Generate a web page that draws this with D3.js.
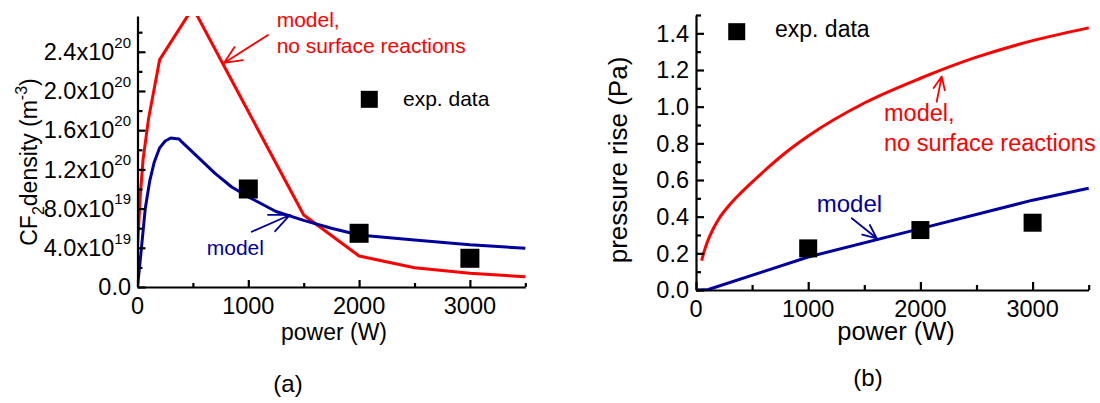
<!DOCTYPE html>
<html><head><meta charset="utf-8">
<script src="https://cdn.jsdelivr.net/npm/d3@7"></script>
<style>
body{margin:0;background:#fff}
svg{display:block}
text{font-family:"Liberation Sans",Arial,Helvetica,sans-serif;fill:#000}
</style></head>
<body><svg id="chart" width="1100" height="403"></svg>
<script>
// ---------- data ----------
const powerMajor = [0, 1000, 2000, 3000];
const powerMinor = [500, 1500, 2500, 3500];

// panel (a): CF2 density
const densMajor = [0, 0.4e20, 0.8e20, 1.2e20, 1.6e20, 2.0e20, 2.4e20];
const densMajorMant = ["0.0", "4.0x10", "8.0x10", "1.2x10", "1.6x10", "2.0x10", "2.4x10"];
const densMajorExp = ["", "19", "19", "20", "20", "20", "20"];
const densMinor = [0.2e20, 0.6e20, 1.0e20, 1.4e20, 1.8e20, 2.2e20, 2.6e20];

const aRedPower = [0, 25, 50, 100, 200, 500, 1000, 1500, 2000, 2500, 3000, 3500];
const aRedDensity = [0.40e20, 0.93e20, 1.30e20, 1.72e20, 2.32e20, 2.85e20, 1.79e20, 0.735e20, 0.316e20, 0.197e20, 0.14e20, 0.105e20];

const aBluePower = [0, 20, 40, 70, 110, 150, 200, 250, 300, 375, 400, 550, 700, 850, 1000, 1250, 1500, 1750, 2000, 2500, 3000, 3500];
const aBlueDensity = [0, 0.22e20, 0.45e20, 0.80e20, 1.08e20, 1.27e20, 1.42e20, 1.49e20, 1.52e20, 1.51e20, 1.48e20, 1.32e20, 1.16e20, 1.02e20, 0.92e20, 0.77e20, 0.68e20, 0.60e20, 0.53e20, 0.48e20, 0.43e20, 0.395e20];

const aExpPower = [1000, 2000, 3000];
const aExpDensity = [1.0e20, 0.548e20, 0.293e20];

// panel (b): pressure rise
const presMajor = [0, 0.2, 0.4, 0.6, 0.8, 1.0, 1.2, 1.4];
const presMajorLabels = ["0.0", "0.2", "0.4", "0.6", "0.8", "1.0", "1.2", "1.4"];
const presMinor = [0.1, 0.3, 0.5, 0.7, 0.9, 1.1, 1.3, 1.5];

const bRedPower = [50, 75, 100, 150, 200, 300, 400, 600, 800, 1000, 1500, 2000, 2500, 3000, 3500];
const bRedPressure = [0.16, 0.215, 0.26, 0.33, 0.385, 0.465, 0.53, 0.645, 0.75, 0.84, 1.02, 1.155, 1.27, 1.36, 1.43];

const bBluePower = [0, 110, 600, 1000, 2000, 3000, 3500];
const bBluePressure = [0, 0.003, 0.10, 0.18, 0.335, 0.49, 0.555];

const bExpPower = [1000, 2000, 3000];
const bExpPressure = [0.227, 0.327, 0.367];

// ---------- drawing ----------
const RED = "#ff0000", BLUE = "#00009c";
const svg = d3.select("#chart");
const defs = svg.append("defs");

function zip(xs, ys) { return xs.map((v, i) => [v, ys[i]]); }

function arrow(g, p1, p2, len, color, w) {
  const ang = Math.atan2(p1[1] - p2[1], p1[0] - p2[0]);
  const a = 24 * Math.PI / 180;
  const w1 = [p2[0] + len * Math.cos(ang + a), p2[1] + len * Math.sin(ang + a)];
  const w2 = [p2[0] + len * Math.cos(ang - a), p2[1] + len * Math.sin(ang - a)];
  g.append("path")
    .attr("d", `M${p1[0]},${p1[1]}L${p2[0]},${p2[1]}M${w1[0]},${w1[1]}L${p2[0]},${p2[1]}L${w2[0]},${w2[1]}`)
    .attr("fill", "none").attr("stroke", color).attr("stroke-width", w)
    .attr("stroke-linecap", "round").attr("stroke-linejoin", "round");
}

function drawAxes(g, x, y, o) {
  const [x0] = x.range();
  const [yb] = y.range();
  g.append("g").attr("transform", `translate(${x0},0)`)
    .call(d3.axisLeft(y).tickValues(o.yMajor).tickSize(-o.yMajorLen).tickSizeOuter(0).tickFormat(""))
    .call(s => s.selectAll("path,line").attr("stroke", "#000").attr("stroke-width", 2.2));
  g.append("g").attr("transform", `translate(${x0},0)`)
    .call(d3.axisLeft(y).tickValues(o.yMinor).tickSize(-o.yMinorLen).tickSizeOuter(0).tickFormat(""))
    .call(s => s.select(".domain").remove())
    .call(s => s.selectAll("line").attr("stroke", "#000").attr("stroke-width", 2.2));
  g.append("g").attr("transform", `translate(0,${yb})`)
    .call(d3.axisBottom(x).tickValues(powerMajor).tickSize(-o.xMajorLen).tickSizeOuter(0).tickFormat(""))
    .call(s => s.selectAll("path,line").attr("stroke", "#000").attr("stroke-width", 2.2));
  g.append("g").attr("transform", `translate(0,${yb})`)
    .call(d3.axisBottom(x).tickValues(powerMinor).tickSize(-o.xMinorLen).tickSizeOuter(0).tickFormat(""))
    .call(s => s.select(".domain").remove())
    .call(s => s.selectAll("line").attr("stroke", "#000").attr("stroke-width", 2.2));
  g.selectAll(null).data(powerMajor).enter().append("text")
    .attr("x", d => x(d)).attr("y", yb + o.xLabelDy)
    .attr("text-anchor", "middle").style("font-size", o.tickFont + "px")
    .text(d => d);
}

function drawPanel(o) {
  const g = svg.append("g");
  const x = d3.scaleLinear().domain([0, 3500]).range(o.xRange);
  const y = d3.scaleLinear().domain(o.yDomain).range(o.yRange);
  const clipId = o.id + "-clip";
  defs.append("clipPath").attr("id", clipId).append("rect")
    .attr("x", o.xRange[0]).attr("y", o.yRange[1])
    .attr("width", o.xRange[1] - o.xRange[0] + 2).attr("height", o.yRange[0] - o.yRange[1] + 3);

  const plot = g.append("g").attr("clip-path", `url(#${clipId})`);
  o.series.forEach(s => {
    const line = d3.line().x(d => x(d[0])).y(d => y(d[1])).curve(s.curve || d3.curveLinear);
    plot.append("path").datum(zip(s.xs, s.ys))
      .attr("d", line)
      .attr("fill", "none").attr("stroke", s.color).attr("stroke-width", 3)
      .attr("stroke-linejoin", "round");
  });
  g.selectAll(null).data(zip(o.expX, o.expY)).enter().append("rect")
    .attr("x", d => x(d[0]) - o.sq / 2).attr("y", d => y(d[1]) - o.sq / 2)
    .attr("width", o.sq).attr("height", o.sq).attr("fill", "#000");

  drawAxes(g, x, y, o);
  return { g, x, y };
}

// ---------- panel (a) ----------
const A = drawPanel({
  id: "a", xRange: [137.5, 525.3], yDomain: [0, 2.765e20], yRange: [287, 16],
  series: [
    { xs: aRedPower, ys: aRedDensity, color: RED },
    { xs: aBluePower, ys: aBlueDensity, color: BLUE }
  ],
  expX: aExpPower, expY: aExpDensity, sq: 19,
  yMajor: densMajor, yMinor: densMinor,
  yMajorLen: 8, yMinorLen: 5, xMajorLen: 7, xMinorLen: 4,
  xLabelDy: 27, tickFont: 23.5
});
{
  const { g, x, y } = A;
  const lab = g.selectAll(null).data(densMajor).enter().append("text")
    .attr("x", 131).attr("y", d => y(d) + 8.3)
    .attr("text-anchor", "end").style("font-size", "23.5px");
  lab.append("tspan").text((d, i) => densMajorMant[i]);
  lab.append("tspan").attr("dy", -12.5).style("font-size", "15px").text((d, i) => densMajorExp[i]);

  const yt = g.append("text").attr("transform", "translate(37,162) rotate(-90)")
    .attr("text-anchor", "middle").style("font-size", "23px");
  yt.append("tspan").text("CF");
  yt.append("tspan").attr("dy", 7).style("font-size", "16px").text("2");
  yt.append("tspan").attr("dy", -7).text("density (m");
  yt.append("tspan").attr("dy", -10).style("font-size", "16px").text("-3");
  yt.append("tspan").attr("dy", 10).text(")");

  g.append("text").attr("x", 334).attr("y", 340).attr("text-anchor", "middle")
    .style("font-size", "23px").text("power (W)");
  g.append("text").attr("x", 288).attr("y", 392).attr("text-anchor", "middle")
    .style("font-size", "24px").text("(a)");

  g.append("rect").attr("x", x(2092) - 8.5).attr("y", y(1.915e20) - 8.5)
    .attr("width", 17).attr("height", 17).attr("fill", "#000");
  g.append("text").attr("x", x(2396)).attr("y", y(1.847e20))
    .style("font-size", "21px").text("exp. data");

  g.append("text").attr("x", x(1256)).attr("y", y(2.653e20))
    .style("fill", RED).style("font-size", "21px").text("model,");
  g.append("text").attr("x", x(1256)).attr("y", y(2.388e20))
    .style("fill", RED).style("font-size", "21px").text("no surface reactions");
  arrow(g, [x(1178), y(2.571e20)], [x(781), y(2.286e20)], 19, RED, 1.8);

  g.append("text").attr("x", x(625)).attr("y", y(0.327e20))
    .style("fill", BLUE).style("font-size", "21px").text("model");
  arrow(g, [x(1031), y(0.564e20)], [x(1376), y(0.735e20)], 22, BLUE, 1.8);
}

// ---------- panel (b) ----------
const B = drawPanel({
  id: "b", xRange: [696, 1088.7], yDomain: [0, 1.5], yRange: [290, 15],
  series: [
    { xs: bRedPower, ys: bRedPressure, color: RED, curve: d3.curveMonotoneX },
    { xs: bBluePower, ys: bBluePressure, color: BLUE }
  ],
  expX: bExpPower, expY: bExpPressure, sq: 18,
  yMajor: presMajor, yMinor: presMinor,
  yMajorLen: 8, yMinorLen: 5, xMajorLen: 8, xMinorLen: 5,
  xLabelDy: 27, tickFont: 23.5
});
{
  const { g, x, y } = B;
  g.selectAll(null).data(presMajor).enter().append("text")
    .attr("x", 689).attr("y", d => y(d) + 8.3)
    .attr("text-anchor", "end").style("font-size", "23.5px")
    .text((d, i) => presMajorLabels[i]);

  g.append("text").attr("transform", "translate(627,160) rotate(-90)")
    .attr("text-anchor", "middle").style("font-size", "26px").text("pressure rise (Pa)");
  g.append("text").attr("x", 896).attr("y", 340).attr("text-anchor", "middle")
    .style("font-size", "25.5px").text("power (W)");
  g.append("text").attr("x", 868).attr("y", 386).attr("text-anchor", "middle")
    .style("font-size", "24px").text("(b)");

  g.append("rect").attr("x", x(363) - 8.5).attr("y", y(1.409) - 8.5)
    .attr("width", 17).attr("height", 17).attr("fill", "#000");
  g.append("text").attr("x", x(704)).attr("y", y(1.379))
    .style("font-size", "23px").text("exp. data");

  g.append("text").attr("x", x(1676)).attr("y", y(0.922))
    .style("fill", RED).style("font-size", "23.5px").text("model,");
  g.append("text").attr("x", x(1676)).attr("y", y(0.756))
    .style("fill", RED).style("font-size", "23.5px").text("no surface reactions");
  arrow(g, [x(2145), y(1.027)], [x(2190), y(1.164)], 14, RED, 1.8);

  g.append("text").attr("x", x(1076)).attr("y", y(0.426))
    .style("fill", BLUE).style("font-size", "24px").text("model");
  arrow(g, [x(1388), y(0.391)], [x(1611), y(0.282)], 15, BLUE, 1.8);
}
</script>
</body></html>
